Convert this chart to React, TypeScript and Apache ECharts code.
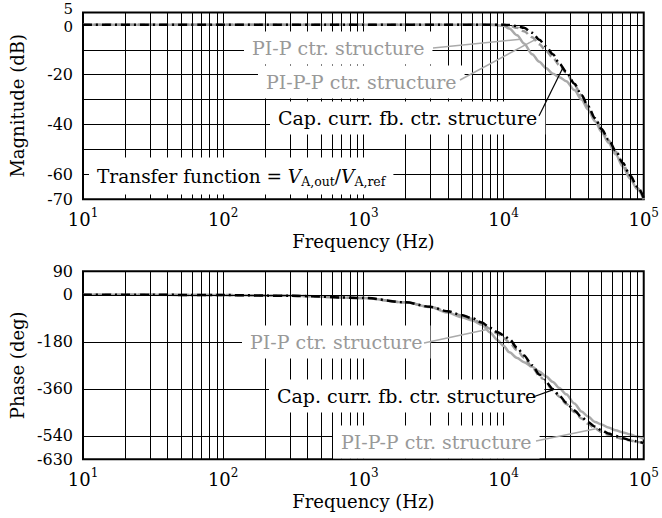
import React, { useEffect, useRef } from 'react';
import * as echarts from 'echarts';

const FONT = '"DejaVu Serif", "Liberation Serif", serif';

// Magnitude (dB)
const magFreq = [10, 100, 1000, 5000, 8000, 10000, 11000, 12500, 14000, 16000, 18000, 20000, 22500, 25000, 28000, 32000, 36000, 40000, 45000, 50000, 56000, 63000, 71000, 80000, 90000, 100000];
const magPIP = [0, 0, 0, 0, 0, -0.4, -1.5, -4.2, -7.5, -11.8, -14.8, -17.3, -19.6, -21, -22.6, -26.2, -30, -34, -38.7, -43, -47.3, -52, -57, -61.8, -66, -70];
const magPIPP = [0, 0, 0, 0, 0, 0, -0.3, -1.2, -2.6, -5, -7.8, -10.3, -13.2, -16.2, -19.2, -24, -28.5, -32.8, -37.8, -42, -46.3, -50.8, -56, -61, -65.5, -69.8];
const magCap = [0, 0, 0, 0, 0, 0, -0.1, -0.5, -1.2, -3.2, -6, -8.6, -11.8, -15.5, -18.8, -23.6, -28.2, -32.6, -37.5, -41.8, -46, -50.5, -55.5, -60.5, -65, -69.5];

// Phase (deg)
const phaseFreq = [10, 30, 100, 300, 1000, 2000, 3000, 4000, 5000, 6000, 7000, 8000, 9000, 10000, 11000, 12500, 14000, 16000, 18000, 20000, 22500, 25000, 28000, 32000, 36000, 40000, 45000, 50000, 56000, 63000, 71000, 80000, 90000, 100000];
const phasePIP = [0, 0, -1, -4, -12, -29, -47, -68, -86, -98, -115, -144, -172, -195, -220, -242, -258, -276, -294, -312, -334, -357, -381, -416, -447, -466, -487, -497, -508, -519, -527, -535, -543, -552];
const phasePIPP = [0, 0, -1, -4, -12, -29, -46, -64, -79, -93, -110, -130, -148, -165, -182, -212, -241, -277, -310, -337, -365, -390, -418, -449, -474, -494, -512, -525, -536, -545, -552, -558, -564, -569];
const phaseCap = [0, 0, -1, -4, -12, -29, -46, -63, -77, -90, -106, -126, -142, -155, -170, -203, -232, -270, -305, -333, -361, -386, -413, -443, -468, -487, -505, -519, -531, -541, -549, -556, -562, -568];

// Axis ticks / grid
const magLabels = [0, -20, -40, -60, -70];
const magTopLabel = [5];
const phaseLabels = [90, 0, -180, -360, -540, -630];
const phaseGridLines = [0, -180, -360, -540];
const decades = [10, 100, 1000, 10000];
const minorMult = [2, 3, 4, 5, 6, 7, 8, 9];

const GRAY_SOLID = '#aaaaaa';
const GRAY_DASH = '#999999';
const GRAY_TEXT = '#999999';

function interpLog(fs: number[], vs: number[], f: number) {
  for (let i = 0; i < fs.length - 1; i++) {
    if (f >= fs[i] && f <= fs[i + 1]) {
      const t = (Math.log10(f) - Math.log10(fs[i])) / (Math.log10(fs[i + 1]) - Math.log10(fs[i]));
      return vs[i] + t * (vs[i + 1] - vs[i]);
    }
  }
  return vs[vs.length - 1];
}

export default function App() {
  const ref = useRef<HTMLDivElement>(null);
  useEffect(() => {
    document.body.style.margin = '0';
    const chart = echarts.init(ref.current!, null, { renderer: 'svg' });
    const mk = (fs: number[], vs: number[]) => fs.map((f, i) => [f, vs[i]]);
    const minorFreqs = decades.flatMap((d) => minorMult.map((m) => d * m));

    const xAxis = (gi: number) => ({
      type: 'log',
      logBase: 10,
      min: 10,
      max: 100000,
      gridIndex: gi,
      name: 'Frequency (Hz)',
      nameLocation: 'middle',
      nameGap: 33,
      nameTextStyle: { fontFamily: FONT, fontSize: 18, color: '#000' },
      axisLine: { show: false },
      axisTick: { show: false },
      axisLabel: {
        margin: 8,
        color: '#000',
        formatter: (v: number) => `{b|10}{s|${Math.round(Math.log10(v))}}`,
        rich: {
          b: { fontFamily: FONT, fontSize: 18, lineHeight: 24, color: '#000' },
          s: { fontFamily: FONT, fontSize: 12, lineHeight: 12, padding: [0, 0, 12, 0], color: '#000' },
        },
      },
      splitLine: { show: true, lineStyle: { color: '#000', width: 1 } },
    });

    const richY = {
      n: { fontFamily: FONT, fontSize: 16, color: '#000' },
      up: { fontFamily: FONT, fontSize: 15, color: '#000', padding: [0, 0, 6, 0] },
      dn: { fontFamily: FONT, fontSize: 15, color: '#000', padding: [5, 0, 0, 0] },
    };

    const yAxis = (
      gi: number, min: number, max: number, interval: number, labels: number[], name: string, split: boolean,
      style: (v: number) => string,
    ) => ({
      type: 'value',
      gridIndex: gi,
      position: 'left',
      min,
      max,
      interval,
      name,
      nameLocation: 'middle',
      nameGap: 57,
      nameTextStyle: { fontFamily: FONT, fontSize: 18, color: '#000' },
      axisLine: { show: false },
      axisTick: { show: false },
      axisLabel: {
        margin: 10,
        color: '#000',
        fontFamily: FONT,
        fontSize: 16,
        showMinLabel: true,
        showMaxLabel: true,
        hideOverlap: false,
        formatter: (v: number) => (labels.includes(v) ? `{${style(v)}|${v}}` : ''),
        rich: richY,
      },
      splitLine: { show: split, lineStyle: { color: '#000', width: 1 } },
    });

    const curve = (gi: number, name: string, data: number[][], color: string, type: any, z: number) => ({
      type: 'line',
      name,
      xAxisIndex: gi,
      yAxisIndex: gi,
      data,
      showSymbol: false,
      symbol: 'none',
      smooth: 0.3,
      smoothMonotone: 'x',
      lineStyle: { color, width: 2.5, type },
      z,
      silent: true,
    });

    const gridLines = (gi: number, extra: any[]) => ({
      type: 'line',
      xAxisIndex: gi,
      yAxisIndex: gi,
      data: [[10, 0]],
      symbol: 'none',
      lineStyle: { opacity: 0 },
      z: 1,
      silent: true,
      markLine: {
        silent: true,
        symbol: ['none', 'none'],
        label: { show: false },
        lineStyle: { color: '#000', width: 1, type: 'solid' },
        emphasis: { disabled: true },
        data: [...minorFreqs.map((f) => ({ xAxis: f })), ...extra],
      },
    });

    chart.setOption({
      animation: false,
      backgroundColor: '#fff',
      grid: [
        { left: 80, right: 16, top: 12.4, height: 186.8, show: true, borderColor: '#000', borderWidth: 2, backgroundColor: 'transparent' },
        { left: 80, right: 16, top: 271.3, height: 188, show: true, borderColor: '#000', borderWidth: 2, backgroundColor: 'transparent' },
      ],
      xAxis: [xAxis(0), xAxis(1)],
      yAxis: [
        yAxis(0, -70, 5, 10, magLabels, 'Magnitude (dB)', true, (v) => (v === 0 ? 'dn' : 'n')),
        yAxis(1, -630, 90, 90, phaseLabels, 'Phase (deg)', false, () => 'n'),
        yAxis(0, -70, 5, 10, magTopLabel, '', false, () => 'up'),
      ],
      series: [
        gridLines(0, []),
        gridLines(1, phaseGridLines.map((v) => ({ yAxis: v }))),
        curve(0, 'PI-P ctr. structure', mk(magFreq, magPIP), GRAY_SOLID, 'solid', 3),
        curve(0, 'PI-P-P ctr. structure', mk(magFreq, magPIPP), GRAY_DASH, [7, 4], 4),
        curve(0, 'Cap. curr. fb. ctr. structure', mk(magFreq, magCap), '#000', [9, 4, 2, 4], 5),
        curve(1, 'PI-P ctr. structure', mk(phaseFreq, phasePIP), GRAY_SOLID, 'solid', 3),
        curve(1, 'PI-P-P ctr. structure', mk(phaseFreq, phasePIPP), GRAY_DASH, [7, 4], 4),
        curve(1, 'Cap. curr. fb. ctr. structure', mk(phaseFreq, phaseCap), '#000', [9, 4, 2, 4], 5),
      ],
    });

    const px = (gi: number, f: number, v: number) => chart.convertToPixel({ gridIndex: gi } as any, [f, v]) as number[];
    const label = (x: number, y: number, text: string, color: string) => ({
      type: 'text',
      x: x - 8,
      y,
      z: 100,
      silent: true,
      style: {
        text,
        fill: color,
        fontFamily: FONT,
        fontSize: 19,
        align: 'left',
        verticalAlign: 'middle',
        backgroundColor: '#fff',
        padding: [7, 8],
      },
    });
    const leader = (x1: number, y1: number, p: number[], color: string, w: number) => ({
      type: 'line',
      z: 101,
      silent: true,
      shape: { x1, y1, x2: p[0], y2: p[1] },
      style: { stroke: color, lineWidth: w },
    });

    const aTopPIP = px(0, 13200, interpLog(magFreq, magPIP, 13200));
    const aTopPIPP = px(0, 16700, interpLog(magFreq, magPIPP, 16700));
    const aTopCap = px(0, 26500, interpLog(magFreq, magCap, 26500));
    const aBotPIP = px(1, 7600, interpLog(phaseFreq, phasePIP, 7600));
    const aBotCap = px(1, 22700, interpLog(phaseFreq, phaseCap, 22700));
    const aBotPIPP = px(1, 45500, interpLog(phaseFreq, phasePIPP, 45500));

    chart.setOption({
      graphic: [
        label(252, 48, 'PI-P ctr. structure', GRAY_TEXT),
        label(266, 82, 'PI-P-P ctr. structure', GRAY_TEXT),
        label(278, 118, 'Cap. curr. fb. ctr. structure', '#000'),
        {
          type: 'text',
          x: 89,
          y: 176,
          z: 100,
          silent: true,
          style: {
            text: 'Transfer function = {i|V}{sub|A,out}/{i|V}{sub|A,ref}',
            fill: '#000',
            fontFamily: FONT,
            fontSize: 18.5,
            align: 'left',
            verticalAlign: 'middle',
            backgroundColor: '#fff',
            padding: [7, 8],
            rich: {
              i: { fontFamily: FONT, fontSize: 18.5, fontStyle: 'italic', fill: '#000' },
              sub: { fontFamily: FONT, fontSize: 12.5, fill: '#000', padding: [10, 0, 0, 0] },
            },
          },
        },
        leader(433, 48, aTopPIP, GRAY_SOLID, 1.5),
        leader(460, 80, aTopPIPP, GRAY_SOLID, 1.5),
        leader(539, 116, aTopCap, '#000', 1.2),
        label(250, 342, 'PI-P ctr. structure', GRAY_TEXT),
        label(277, 396, 'Cap. curr. fb. ctr. structure', '#000'),
        label(341, 442, 'PI-P-P ctr. structure', GRAY_TEXT),
        leader(424, 343, aBotPIP, GRAY_SOLID, 1.5),
        leader(533, 397, aBotCap, '#000', 1.2),
        leader(536, 441, aBotPIPP, GRAY_SOLID, 1.5),
      ],
    });

    return () => chart.dispose();
  }, []);
  return <div ref={ref} style={{ width: 662, height: 518 }} />;
}
